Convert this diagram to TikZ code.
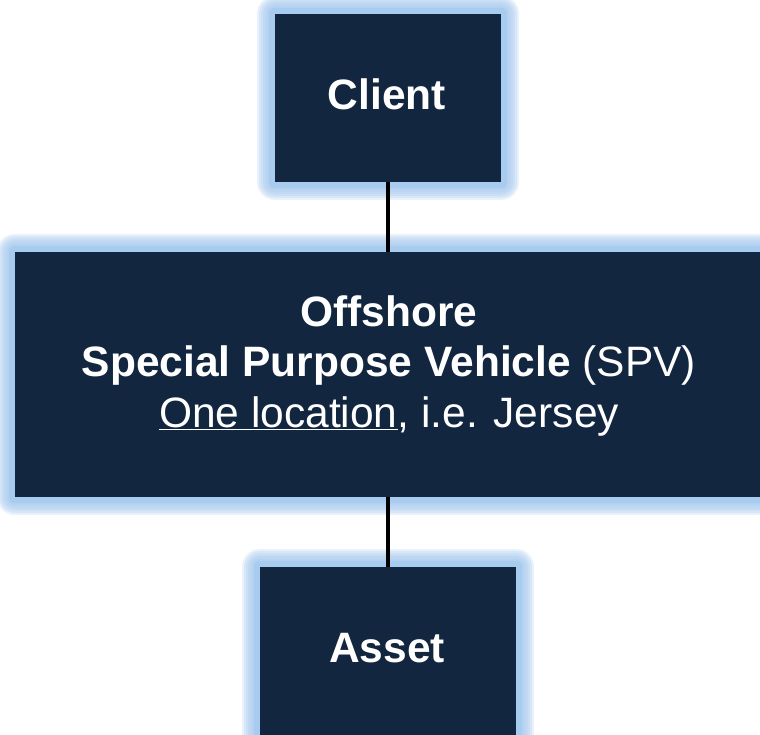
\documentclass[tikz,border=0pt]{standalone}
\usepackage{fontspec}
\setmainfont{Liberation Sans}
\definecolor{navy}{HTML}{122640}
\definecolor{glowblue}{HTML}{A8CBF0}
\newcommand\glowrect[4]{%
  \foreach \k in {18,16,...,8}{%
    \fill[glowblue, opacity=0.25, rounded corners=\k pt] ({#1-\k},{#2-\k}) rectangle ({#3+\k},{#4+\k});
  }%
  \fill[glowblue, rounded corners=5pt] ({#1-6},{#2-6}) rectangle ({#3+6},{#4+6});
}
\begin{document}
\begin{tikzpicture}[x=1pt,y=-1pt,
  box/.style={fill=navy, draw=none, inner sep=0pt},
  lbl/.style={text=white, font=\fontsize{42.5}{50.5}\selectfont, align=center},
  link/.style={line width=4.5pt, draw=black}]
\useasboundingbox (0,0) rectangle (760,735);
\clip (0,0) rectangle (760,735);
\fill[white] (0,0) rectangle (760,735);
% glows
\glowrect{275}{14}{501}{182}
\glowrect{15}{252}{762}{497}
\glowrect{260}{567}{516}{737}
% box positions
\path (388,98) node[minimum width=226pt, minimum height=168pt, inner sep=0pt] (client) {};
\path (388.5,374.5) node[minimum width=747pt, minimum height=245pt, inner sep=0pt] (spv) {};
\path (388,652) node[minimum width=256pt, minimum height=170pt, inner sep=0pt] (asset) {};
% connectors
\draw[link] (client.south) -- (client.south |- spv.north);
\draw[link] (spv.south -| asset.north) -- (asset.north);
% filled boxes
\node[box, minimum width=226pt, minimum height=168pt] (clientbox) at (client) {};
\node[box, minimum width=747pt, minimum height=245pt] (spvbox) at (spv) {};
\node[box, minimum width=256pt, minimum height=170pt] (assetbox) at (asset) {};
% texts
\node[lbl] (clienttext) at (387,94) {\textbf{Client}};
\node[lbl] (spvtext) at (389,366) {\textbf{Offshore}\\ \textbf{Special Purpose Vehicle} (SPV)\\ \underline{One location}, i.e. Jersey};
\node[lbl] (assettext) at (387,648) {\textbf{Asset}};
\end{tikzpicture}
\end{document}
